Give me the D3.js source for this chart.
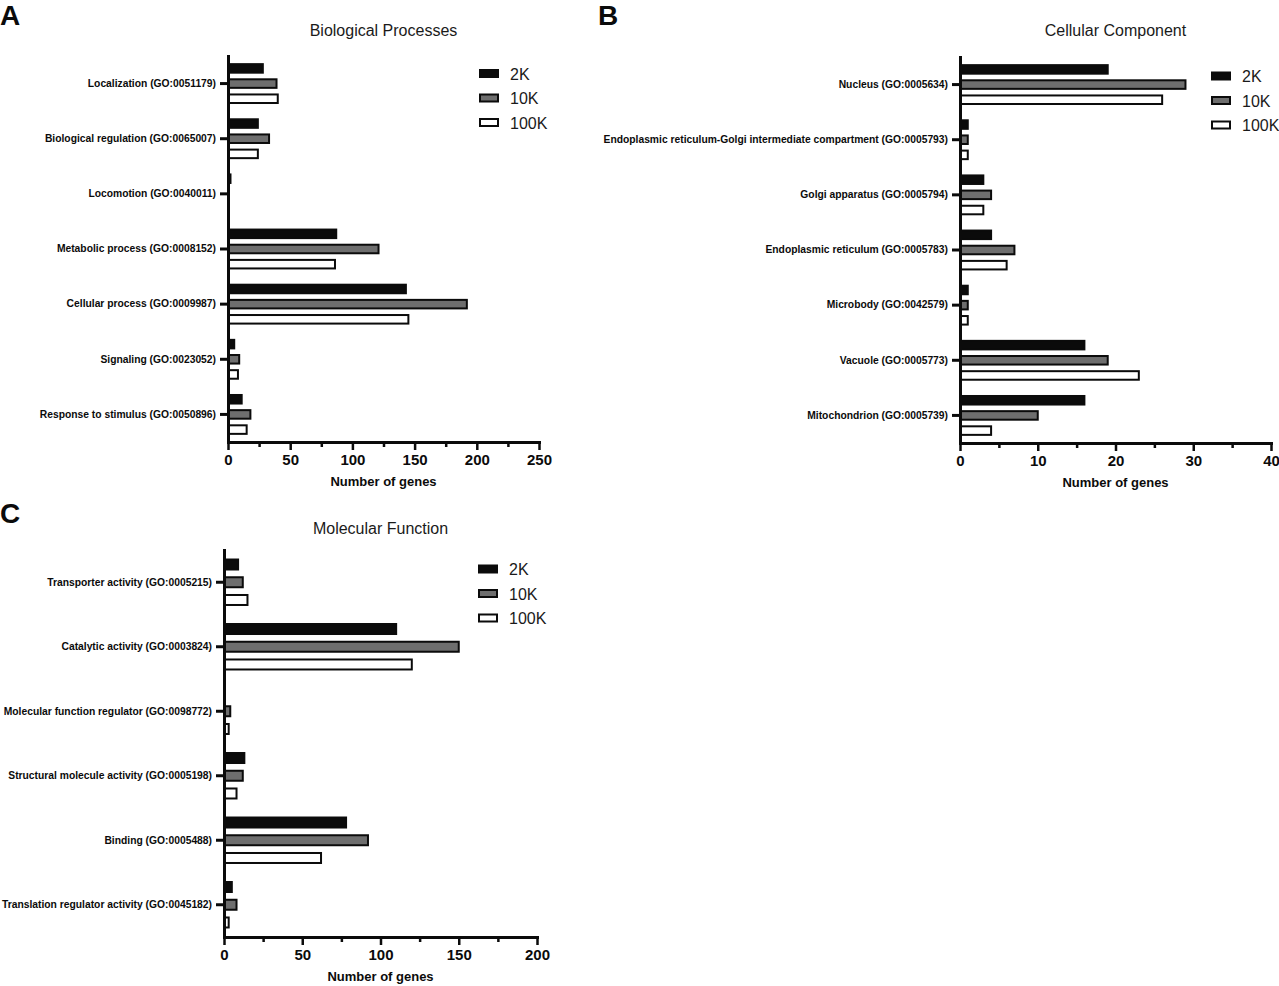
<!DOCTYPE html>
<html>
<head>
<meta charset="utf-8">
<script src="https://cdn.jsdelivr.net/npm/d3@7"></script>
<style>
  html, body { margin: 0; padding: 0; background: #fff; }
  svg { display: block; font-family: "Liberation Sans", Arial, sans-serif; }
</style>
</head>
<body>
<svg id="chart" width="1279" height="986"></svg>
<script>
// ── Data ─────────────────────────────────────────────────────────
const seriesNames = ["2K", "10K", "100K"];

const bpCategories = [
  "Localization (GO:0051179)",
  "Biological regulation (GO:0065007)",
  "Locomotion (GO:0040011)",
  "Metabolic process (GO:0008152)",
  "Cellular process (GO:0009987)",
  "Signaling (GO:0023052)",
  "Response to stimulus (GO:0050896)",
];
const bp2K   = [28, 24, 2, 87, 143, 5, 11];
const bp10K  = [39, 33, 0, 121, 192, 9, 18];
const bp100K = [40, 24, 0, 86, 145, 8, 15];
const bpTicks = [0, 50, 100, 150, 200, 250];

const ccCategories = [
  "Nucleus (GO:0005634)",
  "Endoplasmic reticulum-Golgi intermediate compartment (GO:0005793)",
  "Golgi apparatus (GO:0005794)",
  "Endoplasmic reticulum (GO:0005783)",
  "Microbody (GO:0042579)",
  "Vacuole (GO:0005773)",
  "Mitochondrion (GO:0005739)",
];
const cc2K   = [19, 1, 3, 4, 1, 16, 16];
const cc10K  = [29, 1, 4, 7, 1, 19, 10];
const cc100K = [26, 1, 3, 6, 1, 23, 4];
const ccTicks = [0, 10, 20, 30, 40];

const mfCategories = [
  "Transporter activity (GO:0005215)",
  "Catalytic activity (GO:0003824)",
  "Molecular function regulator (GO:0098772)",
  "Structural molecule activity (GO:0005198)",
  "Binding (GO:0005488)",
  "Translation regulator activity (GO:0045182)",
];
const mf2K   = [9, 110, 0, 13, 78, 5];
const mf10K  = [12, 150, 4, 12, 92, 8];
const mf100K = [15, 120, 3, 8, 62, 3];
const mfTicks = [0, 50, 100, 150, 200];

// ── Styles ───────────────────────────────────────────────────────
const FILL = { "2K": "#0b0b0b", "10K": "#6e6e6e", "100K": "#ffffff" };
const INK = "#0b0b0b";

const svg = d3.select("#chart");

function drawPanel(p) {
  const g = svg.append("g");

  const x = d3.scaleLinear().domain([0, p.ticks[p.ticks.length - 1]]).range([p.x0, p.x1]);
  const y0 = d3.scaleBand().domain(p.categories).range([p.top, p.bottom]);
  const bw = y0.bandwidth();
  const pitch = bw * 0.275;
  const barH = bw * 0.155;
  const pad = 1 - barH / pitch;
  const y1 = d3.scaleBand()
    .domain(seriesNames)
    .range([bw / 2 - 1.5 * pitch, bw / 2 + 1.5 * pitch])
    .paddingInner(pad)
    .paddingOuter(pad / 2);

  const rows = [];
  p.categories.forEach((c, i) => {
    seriesNames.forEach((s) => rows.push({ cat: c, series: s, value: p.values[s][i] }));
  });

  // bars
  g.append("g").selectAll("rect")
    .data(rows.filter((d) => d.value > 0))
    .join("rect")
    .attr("x", x(0))
    .attr("y", (d) => y0(d.cat) + y1(d.series))
    .attr("width", (d) => x(d.value) - x(0))
    .attr("height", y1.bandwidth())
    .attr("fill", (d) => FILL[d.series])
    .attr("stroke", INK)
    .attr("stroke-width", 2);

  // x axis: major + minor ticks
  const minor = d3.range(1, p.ticks.length).map((i) => (p.ticks[i - 1] + p.ticks[i]) / 2);
  const xMinor = g.append("g")
    .attr("transform", `translate(0,${p.bottom})`)
    .call(d3.axisBottom(x).tickValues(minor).tickSize(5).tickFormat(""));
  xMinor.select(".domain").remove();
  xMinor.selectAll("line").attr("stroke", INK).attr("stroke-width", 2.5);

  const xAxis = g.append("g")
    .attr("transform", `translate(0,${p.bottom})`)
    .call(d3.axisBottom(x).tickValues(p.ticks).tickSize(8).tickSizeOuter(0).tickPadding(4).tickFormat(d3.format("d")));
  xAxis.select(".domain").attr("stroke", INK).attr("stroke-width", 3).attr("stroke-linecap", "square");
  xAxis.selectAll("line").attr("stroke", INK).attr("stroke-width", 2.5);
  xAxis.selectAll("text")
    .attr("fill", INK)
    .attr("font-size", 15)
    .attr("font-weight", "bold")
    .attr("font-family", "Liberation Sans, Arial, sans-serif");

  // y axis
  const yAxis = g.append("g")
    .attr("transform", `translate(${p.x0},0)`)
    .call(d3.axisLeft(y0).tickSize(8).tickSizeOuter(0).tickPadding(4));
  yAxis.select(".domain").attr("stroke", INK).attr("stroke-width", 3).attr("stroke-linecap", "square");
  yAxis.selectAll("line").attr("stroke", INK).attr("stroke-width", 3);
  yAxis.selectAll("text")
    .attr("fill", INK)
    .attr("font-size", 10.3)
    .attr("font-weight", "bold")
    .attr("font-family", "Liberation Sans, Arial, sans-serif");

  // axis label
  g.append("text")
    .attr("x", (p.x0 + p.x1) / 2)
    .attr("y", p.bottom + 44)
    .attr("text-anchor", "middle")
    .attr("font-size", 13)
    .attr("font-weight", "bold")
    .attr("fill", INK)
    .text("Number of genes");

  // title
  g.append("text")
    .attr("x", (p.x0 + p.x1) / 2)
    .attr("y", p.titleY)
    .attr("text-anchor", "middle")
    .attr("font-size", 16)
    .attr("fill", "#1a1a1a")
    .text(p.title);

  // panel letter
  g.append("text")
    .attr("x", p.letterX)
    .attr("y", p.letterY)
    .attr("font-size", 28)
    .attr("font-weight", "bold")
    .attr("fill", INK)
    .text(p.letter);

  // legend
  const leg = g.append("g").attr("transform", `translate(${p.legX},${p.legY})`);
  const item = leg.selectAll("g")
    .data(seriesNames)
    .join("g")
    .attr("transform", (d, i) => `translate(0,${i * 24.5})`);
  item.append("rect")
    .attr("x", 1).attr("y", -3.5)
    .attr("width", 18).attr("height", 7)
    .attr("fill", (d) => FILL[d])
    .attr("stroke", INK)
    .attr("stroke-width", 2);
  item.append("text")
    .attr("x", 31)
    .attr("y", 6)
    .attr("font-size", 16)
    .attr("fill", "#1a1a1a")
    .text((d) => d);
}

drawPanel({
  letter: "A", letterX: 0, letterY: 25,
  title: "Biological Processes", titleY: 36,
  categories: bpCategories,
  values: { "2K": bp2K, "10K": bp10K, "100K": bp100K },
  ticks: bpTicks,
  x0: 228, x1: 539, top: 56, bottom: 442,
  legX: 479, legY: 73.5,
});

drawPanel({
  letter: "B", letterX: 598, letterY: 25,
  title: "Cellular Component", titleY: 36,
  categories: ccCategories,
  values: { "2K": cc2K, "10K": cc10K, "100K": cc100K },
  ticks: ccTicks,
  x0: 960, x1: 1271, top: 57, bottom: 443,
  legX: 1211, legY: 76,
});

drawPanel({
  letter: "C", letterX: 0, letterY: 523,
  title: "Molecular Function", titleY: 534,
  categories: mfCategories,
  values: { "2K": mf2K, "10K": mf10K, "100K": mf100K },
  ticks: mfTicks,
  x0: 224, x1: 537, top: 550, bottom: 937,
  legX: 478, legY: 569,
});
</script>
</body>
</html>
